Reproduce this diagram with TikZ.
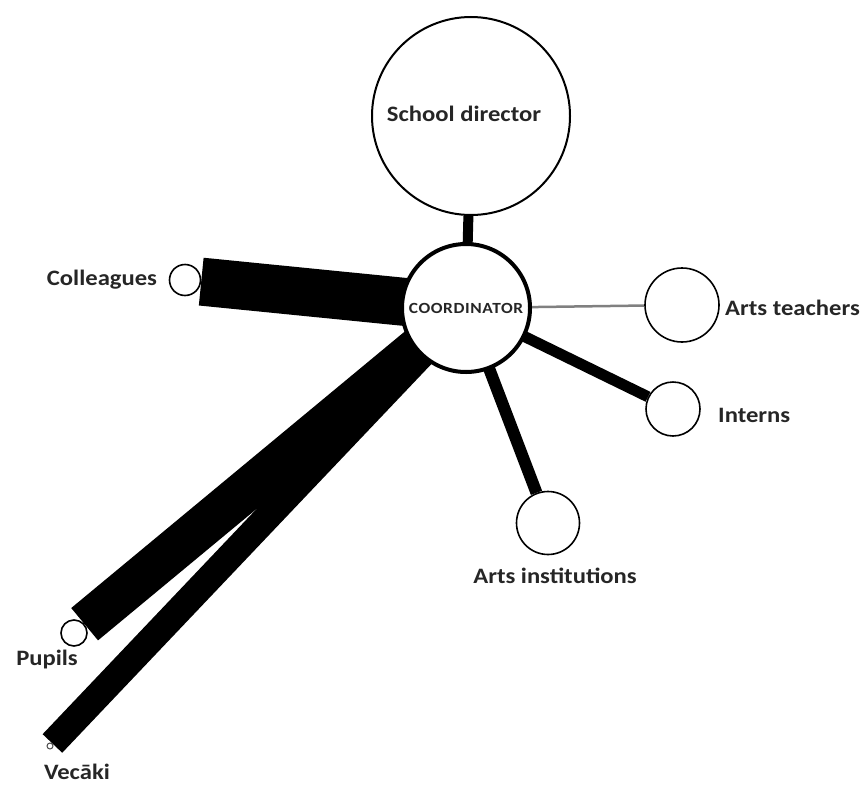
\documentclass[tikz,border=0pt]{standalone}
\usepackage{fontspec}
\setmainfont{Carlito}
\newfontfamily\lblfont{Carlito}[FakeStretch=1.12]
\usetikzlibrary{backgrounds}
\begin{document}
\begin{tikzpicture}[x=1pt,y=-1pt,
  circ/.style={circle,draw=black,fill=white,inner sep=0pt,line width=1.6pt},
  lbl/.style={font=\lblfont\bfseries\fontsize{22}{24}\selectfont,text=black!85,inner sep=0pt},
  bar/.style={draw=black,line cap=butt}]
\useasboundingbox (0,0) rectangle (866,784);
% nodes
\node[circ,minimum size=198pt,line width=2pt,lbl] (dir) at (471,116) {\raisebox{5pt}{School director\hspace{14pt}}};
\node[circ,minimum size=128pt,line width=4pt,
      font=\lblfont\bfseries\fontsize{15.5}{17}\selectfont\addfontfeature{LetterSpace=4},text=black!85] (coord) at (466,308) {COORDINATOR};
\node[circ,minimum size=31pt] (col) at (185,280) {};
\node[circ,minimum size=74pt] (ateach) at (682,305) {};
\node[circ,minimum size=54pt] (int) at (673,409) {};
\node[circ,minimum size=63pt] (ainst) at (548,523) {};
\node[circ,minimum size=26pt] (pup) at (74,633) {};
\node[circ,minimum size=6pt,line width=1pt,draw=black!70] (vec) at (50,746) {};
% labels
\node[lbl] (coll) at (102,280) {Colleagues};
\node[lbl,anchor=west] (ateachl) at (725,308) {Arts teachers};
\node[lbl,anchor=west] (intl) at (718,415) {Interns};
\node[lbl] (ainstl) at (555,576) {Arts institutions};
\node[lbl] (pupl) at (47,660) {Pupils};
\node[lbl] (vecl) at (77,772) {Vecāki};
% connectors
\begin{scope}[on background layer]
\draw[bar,line width=10pt] (dir) -- (coord.center);
\draw[bar,line width=48pt] (col) -- (coord.center);
\draw[bar,line width=42pt] (pup) -- (coord.center);
\draw[bar,line width=27pt] (vec) -- (coord.center);
\draw[bar,line width=11pt] (int) -- (coord.center);
\draw[bar,line width=12pt] (ainst) -- (coord.center);
\draw[bar,line width=2.5pt,draw=black!50] (ateach) -- (coord.center);
\end{scope}
\end{tikzpicture}
\end{document}
